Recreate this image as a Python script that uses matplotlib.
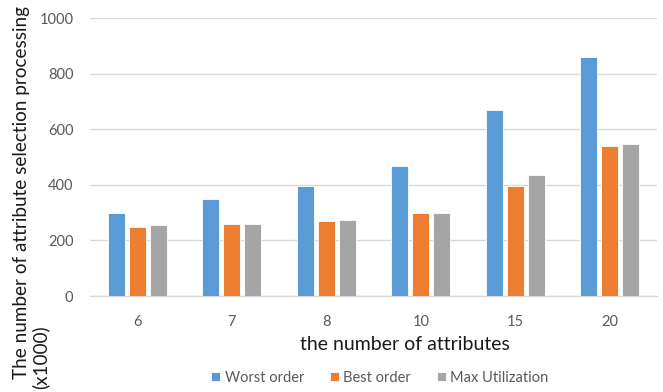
import numpy as np
import matplotlib.pyplot as plt

plt.rcParams['font.family'] = ['Lato', 'DejaVu Sans']

# number of attributes per test
categories = ['6', '7', '8', '10', '15', '20']
worst_order = [300, 350, 397, 467, 670, 858]
best_order = [250, 260, 270, 300, 397, 538]
max_utilization = [255, 260, 275, 300, 436, 548]

series = [
    ('Worst order', worst_order, '#5B9BD5'),
    ('Best order', best_order, '#ED7D31'),
    ('Max Utilization', max_utilization, '#A5A5A5'),
]

fig = plt.figure(figsize=(6.63, 3.92), dpi=100)
ax = fig.add_axes([90 / 663, 1 - 296 / 392, 567 / 663, 278 / 392])

x = np.arange(len(categories))
width = 0.18
step = 0.222
for i, (name, vals, col) in enumerate(series):
    ax.bar(x + (i - 1) * step, vals, width=width, color=col, label=name,
           edgecolor='white', linewidth=0.6, zorder=3)

ax.set_xlim(-0.5, len(categories) - 0.5)
ax.set_ylim(0, 1000)
ax.set_yticks(range(0, 1001, 200))
ax.set_xticks(x)
ax.set_xticklabels(categories)
ax.grid(axis='y', color='#D9D9D9', linewidth=1.0, zorder=0)
for s in ['top', 'right', 'left']:
    ax.spines[s].set_visible(False)
ax.spines['bottom'].set_color('#D9D9D9')
ax.spines['bottom'].set_linewidth(1.0)
ax.tick_params(axis='both', length=0, colors='#595959', labelsize=10.5)
ax.tick_params(axis='x', pad=14)
ax.tick_params(axis='y', pad=12)

fig.text(405 / 663, 1 - 345 / 392, 'the number of attributes',
         ha='center', va='center', fontsize=14, color='#1a1a1a')

# y label split in two rotated lines
fig.text(22 / 663, 1 - 379 / 392, 'The number of attribute selection processing',
         rotation=90, ha='center', va='bottom', fontsize=13.6, color='#1a1a1a')
fig.text(40 / 663, 1 - 389 / 392, '(x1000)',
         rotation=90, ha='center', va='bottom', fontsize=13.6, color='#1a1a1a')

fig.legend(loc='center', bbox_to_anchor=(380 / 663, 1 - 378 / 392),
           ncol=3, frameon=False, fontsize=10.5, labelcolor='#595959',
           handlelength=0.6, handleheight=0.6, handletextpad=0.3,
           columnspacing=1.8)

fig.savefig('out.png', dpi=100)
